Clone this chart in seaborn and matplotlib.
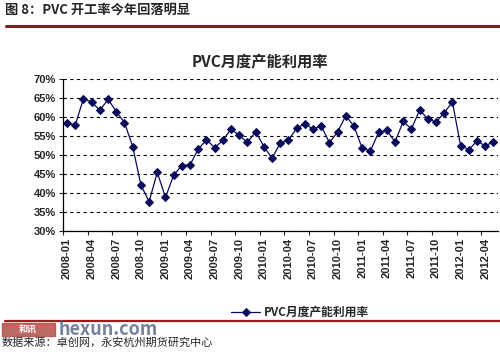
import numpy as np
import pandas as pd
import matplotlib
matplotlib.use('Agg')
import matplotlib.pyplot as plt
from matplotlib.patches import Rectangle
import seaborn as sns

sns.set_style('white')
plt.rcParams['font.family'] = ['Noto Sans CJK SC', 'DejaVu Sans']

# monthly capacity utilisation, 2008-01 .. 2012-05 (%)
months = pd.period_range('2008-01', '2012-05', freq='M').strftime('%Y-%m').tolist()
rate = [58.3, 57.9, 64.8, 63.9, 61.7, 64.6, 61.4, 58.5, 52.2, 42.1,
        37.7, 45.4, 38.8, 44.7, 47.2, 47.4, 51.5, 54.0, 51.9, 53.8,
        56.8, 55.1, 53.3, 56.1, 52.2, 49.1, 53.1, 53.9, 57.0, 58.2,
        56.8, 57.6, 53.2, 56.1, 60.3, 57.5, 51.7, 51.1, 55.9, 56.5,
        53.4, 58.8, 56.8, 61.8, 59.5, 58.6, 61.1, 63.9, 52.4, 51.4,
        53.6, 52.4, 53.4]
series_name = 'PVC月度产能利用率'
yticks = [30, 35, 40, 45, 50, 55, 60, 65, 70]

df = pd.DataFrame({'idx': range(len(months)), 'month': months, 'rate': rate})

fig = plt.figure(figsize=(5, 3.52), dpi=100)
ax = fig.add_axes([0.126, 0.344, 0.869, 0.432])

sns.lineplot(data=df, x='idx', y='rate', ax=ax, color='#0a0a5c', lw=0.9,
             marker='D', markersize=4, markeredgecolor='#0a0a5c',
             label=series_name, legend=False)

ax.set_xlim(-0.5, len(months) - 0.5)
ax.set_ylim(30, 70)
ax.set_yticks(yticks)
ax.set_yticklabels([f'{v}%' for v in yticks], fontsize=8, fontweight='bold',
                   family=['Liberation Sans', 'DejaVu Sans'])
lab_idx = list(range(0, len(months), 3))
ax.set_xticks(lab_idx)
ax.set_xticklabels([months[i] for i in lab_idx], rotation=90, fontsize=8,
                   fontweight='bold', family=['Liberation Sans', 'DejaVu Sans'])
ax.set_xticks(np.arange(-0.5, len(months), 3), minor=True)
ax.tick_params(axis='x', which='major', length=0, pad=5)
ax.tick_params(axis='x', which='minor', length=3, width=0.8, direction='out', bottom=True)
ax.tick_params(axis='y', length=3, width=0.8, direction='out', left=True, pad=2)
ax.set_xlabel('')
ax.set_ylabel('')
ax.grid(axis='y', color='black', ls=(0, (3, 3)), lw=0.8)
for s in ['top', 'right']:
    ax.spines[s].set_visible(False)
for s in ['left', 'bottom']:
    ax.spines[s].set_color('black')
    ax.spines[s].set_linewidth(0.9)

fig.text(0.52, 0.823, series_name, ha='center', va='center', fontsize=11,
         fontweight='bold')

leg = fig.legend(*ax.get_legend_handles_labels(), loc='center',
                 bbox_to_anchor=(0.6, 0.112), frameon=False, fontsize=8.5,
                 handlelength=2.5, handletextpad=0.3)
for t in leg.get_texts():
    t.set_fontweight('bold')

# report header / footer
fig.text(0.01, 0.972, '图 8：PVC 开工率今年回落明显', ha='left', va='center',
         fontsize=9.5, fontweight='bold')
fig.add_artist(plt.Line2D([0.012, 1.0], [0.927, 0.927], color='#7a1f1f', lw=2.2))
fig.add_artist(plt.Line2D([0.01, 1.0], [0.089, 0.089], color='#a01c1c', lw=1.6))
fig.add_artist(Rectangle((0.004, 0.046), 0.105, 0.036, color='#b0504a', alpha=0.85))
fig.text(0.056, 0.064, '和讯', ha='center', va='center', fontsize=6.5,
         fontweight='bold', color='white')
fig.text(0.118, 0.048, 'hexun.com', ha='left', va='baseline', fontsize=13,
         color='#4a5a7a', alpha=0.75, fontweight='bold')
fig.text(0.004, 0.026, '数据来源：卓创网，永安杭州期货研究中心', ha='left',
         va='center', fontsize=8)

fig.savefig('out.png', dpi=100)
